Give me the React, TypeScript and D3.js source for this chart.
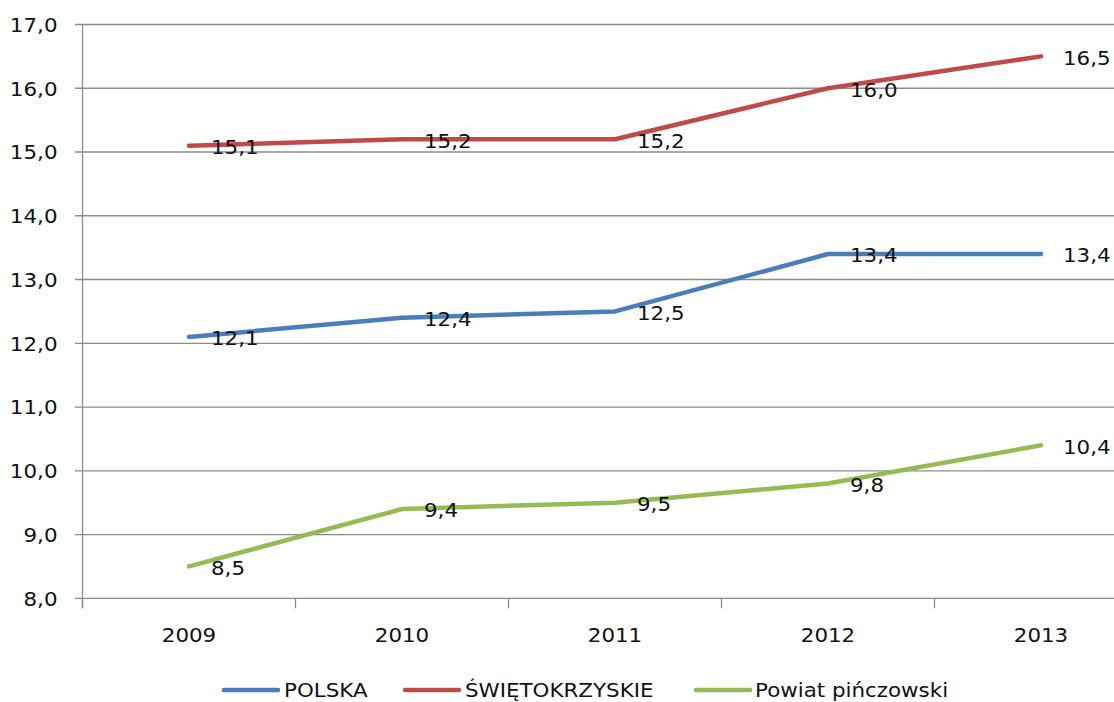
import React from "react";
import * as d3 from "d3";

const years = ["2009", "2010", "2011", "2012", "2013"];
const polska = [12.1, 12.4, 12.5, 13.4, 13.4];
const swietokrzyskie = [15.1, 15.2, 15.2, 16.0, 16.5];
const powiat = [8.5, 9.4, 9.5, 9.8, 10.4];
const yTicks = [8, 9, 10, 11, 12, 13, 14, 15, 16, 17];

const seriesNames = ["POLSKA", "ŚWIĘTOKRZYSKIE", "Powiat pińczowski"];
const seriesColors = ["#4A7EBB", "#BE4B48", "#98B954"];

const W = 1114;
const H = 702;
const FONT = "'DejaVu Sans', sans-serif";
const SX = 1.07;

function Label(props: {
  x: number;
  y: number;
  anchor?: "start" | "middle" | "end";
  baseline?: string;
  children: React.ReactNode;
}) {
  return (
    <g transform={`translate(${props.x},${props.y}) scale(${SX},1)`}>
      <text
        x={0}
        y={0}
        textAnchor={props.anchor || "start"}
        dominantBaseline={props.baseline || "central"}
        fontFamily={FONT}
        fontSize={20}
        fill="#111"
      >
        {props.children}
      </text>
    </g>
  );
}

export default function App() {
  const left = 82.5;
  const band = 213;
  const x = d3.scaleBand<string>().domain(years).range([left, left + band * years.length]);
  const y = d3.scaleLinear().domain([8, 17]).range([598.3, 24.5]);
  const cx = (yr: string) => (x(yr) as number) + x.bandwidth() / 2;
  const line = d3
    .line<number>()
    .x((_, i) => cx(years[i]))
    .y((d) => y(d));
  const fmt = (v: number) => v.toFixed(1).replace(".", ",");
  const allSeries = [polska, swietokrzyskie, powiat];
  const bottom = y(8);

  const legendItems = [
    { lx: 224, tx: 284 },
    { lx: 405, tx: 465 },
    { lx: 696, tx: 755 },
  ];

  return (
    <svg
      width={W}
      height={H}
      style={{ position: "absolute", left: 0, top: 0, background: "#fff" }}
    >
      {yTicks.map((t) => (
        <g key={t}>
          <line x1={75} x2={W} y1={y(t)} y2={y(t)} stroke="#8c8c8c" strokeWidth={1.3} />
          <Label x={57.5} y={y(t) + 0.5} anchor="end">
            {fmt(t)}
          </Label>
        </g>
      ))}
      <line x1={left} x2={left} y1={y(17)} y2={bottom + 10} stroke="#8c8c8c" strokeWidth={1.3} />
      {years.map((yr) => (
        <g key={yr}>
          <line
            x1={x(yr) as number}
            x2={x(yr) as number}
            y1={bottom}
            y2={bottom + 10}
            stroke="#8c8c8c"
            strokeWidth={1.3}
          />
          <Label x={cx(yr)} y={641.5} anchor="middle" baseline="alphabetic">
            {yr}
          </Label>
        </g>
      ))}
      {allSeries.map((s, si) => (
        <path
          key={si}
          d={line(s) as string}
          fill="none"
          stroke={seriesColors[si]}
          strokeWidth={4.5}
          strokeLinecap="round"
          strokeLinejoin="round"
        />
      ))}
      {allSeries.map((s, si) =>
        s.map((v, i) => (
          <Label key={`${si}-${i}`} x={cx(years[i]) + 22} y={y(v) + 1.5}>
            {fmt(v)}
          </Label>
        ))
      )}
      {legendItems.map((it, i) => (
        <g key={i}>
          <line
            x1={it.lx}
            x2={it.lx + 54}
            y1={690}
            y2={690}
            stroke={seriesColors[i]}
            strokeWidth={4.5}
            strokeLinecap="round"
          />
          <Label x={it.tx} y={690}>
            {seriesNames[i]}
          </Label>
        </g>
      ))}
    </svg>
  );
}
